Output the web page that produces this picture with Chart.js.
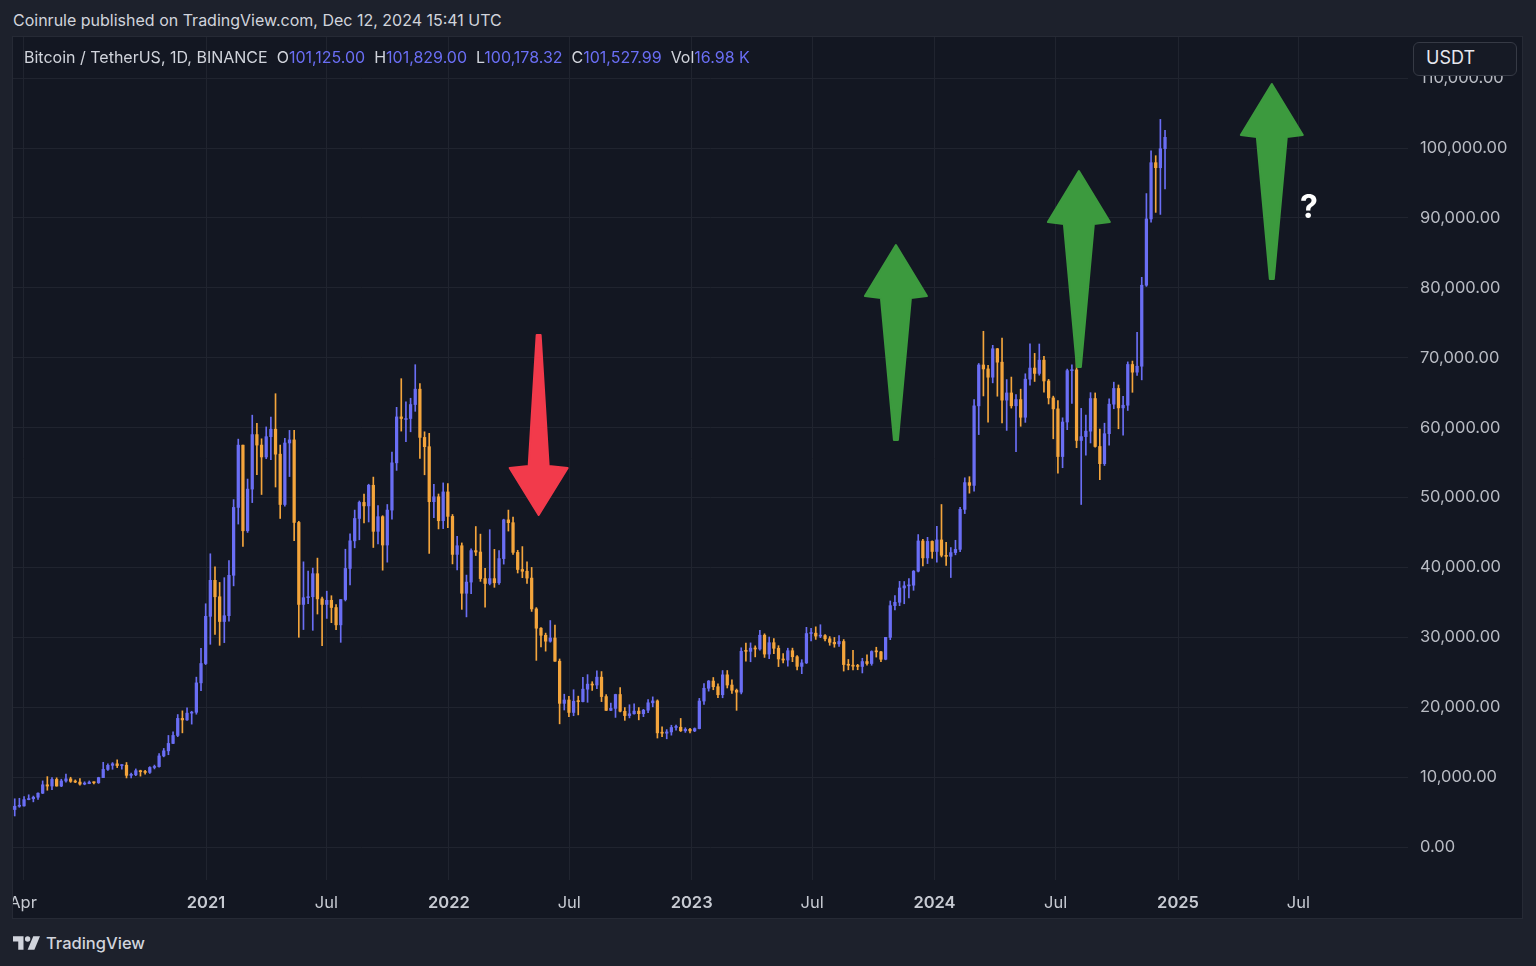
<!DOCTYPE html>
<html>
<head>
<meta charset="utf-8">
<script src="https://cdn.jsdelivr.net/npm/chart.js@4.4.1/dist/chart.umd.min.js"></script>
<style>
    body { margin: 0; width: 1536px; height: 966px; overflow: hidden; background: #1d212c; font-family: Inter, "Noto Sans", sans-serif; }
    #title { position: absolute; left: 13px; top: 10px; font-size: 16px; line-height: 20px; color: #d1d4dc; }
    #pane { position: absolute; left: 12px; top: 36px; width: 1511px; height: 883px; background: #131722; border: 1px solid #262a35; box-sizing: border-box; }
    #chartBox { position: absolute; left: 13px; top: 37px; width: 1509px; height: 881px; }
    #legend { position: absolute; left: 24px; top: 47px; font-size: 16px; line-height: 20px; color: #d1d4dc; white-space: nowrap; }
    #legend .v { color: #6a6ef4; }
    #legend .k { margin-left: 9px; }
    #unit { position: absolute; left: 1413px; top: 42px; width: 104px; height: 34px; box-sizing: border-box; border: 1px solid #363a45; border-radius: 6px; background: #161a25; color: #e6e8ee; font-size: 18px; line-height: 30px; padding-left: 12px; }
    #footer { position: absolute; left: 13px; top: 933px; height: 20px; color: #d1d4dc; font-size: 16.5px; line-height: 20px; font-weight: 500; display: flex; align-items: center; }
    #footer svg { margin-right: 6px; }
</style>
</head>
<body>
<div id="title">Coinrule published on TradingView.com, Dec 12, 2024 15:41 UTC</div>
<div id="pane"></div>
<div id="chartBox"><canvas id="chart" width="1509" height="881"></canvas></div>
<div id="legend">Bitcoin / TetherUS, 1D, BINANCE<span class="k">O</span><span class="v">101,125.00</span><span class="k">H</span><span class="v">101,829.00</span><span class="k">L</span><span class="v">100,178.32</span><span class="k">C</span><span class="v">101,527.99</span><span class="k">Vol</span><span class="v">16.98 K</span></div>
<div id="unit">USDT</div>
<div id="footer">
    <svg width="27" height="14" viewBox="0 0 36 18"><path d="M0 0h14v18h-7v-11h-7z" fill="#d1d4dc"/><circle cx="19.5" cy="3.6" r="3.6" fill="#d1d4dc"/><path d="M27 0h9l-7.5 18h-9z" fill="#d1d4dc"/></svg>TradingView
</div>
<script>
// weekly candles (thousands USDT), first week starts Mon 2020-03-16
const weekStart = '2020-03-16';
const firstOpen = 5.36;
const weekHigh = [
    6.90,6.97,7.20,7.47,7.29,7.74,9.46,10.07,9.94,9.90,9.70,10.43,9.98,9.60,9.78,9.33,9.45,9.34,9.98,12.12,11.90,12.08,12.47,11.78,12.09,10.57,11.17,10.99,10.96,11.49,11.72,13.35,14.10,15.96,16.48,18.95,19.48,19.92,19.42,24.30,28.42,34.80,
    41.95,40.10,37.85,38.53,40.97,49.70,58.35,57.50,52.64,61.78,60.60,58.40,60.10,61.50,64.85,57.50,58.45,59.60,59.60,46.60,40.80,39.48,39.90,41.33,35.75,36.60,35.95,34.68,35.40,42.60,44.80,48.20,49.50,50.50,51.90,52.92,48.84,47.40,49.00,56.50,62.90,67.00,63.70,64.20,69.00,66.30,59.40,59.18,51.90,50.50,52.09,52.00,
    47.57,44.45,43.50,38.90,42.66,45.85,44.76,39.85,45.40,42.58,42.40,46.90,48.20,47.20,42.45,42.98,40.80,40.00,34.25,31.40,30.60,32.40,31.75,26.90,21.86,21.54,22.50,21.58,24.28,24.66,23.65,25.20,25.10,21.80,20.58,21.86,22.80,19.95,20.35,20.48,19.95,19.70,21.08,21.48,21.05,17.19,16.80,17.42,17.43,18.39,17.06,16.97,
    17.04,21.26,23.37,23.82,24.25,23.33,25.25,25.25,23.90,22.60,28.50,29.18,29.20,28.78,31.00,30.50,30.04,29.82,28.80,27.66,28.44,28.45,27.40,26.80,31.43,31.28,31.50,31.80,30.40,30.10,29.98,30.24,29.68,26.83,28.14,26.13,27.00,27.48,28.07,28.58,28.00,30.00,35.20,35.98,38.00,37.98,38.41,39.55,44.70,44.00,44.30,43.80,
    45.88,49.00,43.57,42.84,43.88,48.59,52.82,52.98,64.00,69.17,73.78,68.92,71.77,71.34,72.80,66.87,67.23,64.73,65.50,67.70,71.98,70.62,71.96,70.20,66.90,64.50,63.86,61.40,68.37,68.99,70.08,62.75,61.80,65.00,64.96,59.80,60.63,64.13,66.50,66.10,64.48,69.40,69.52,73.62,81.50,93.48,99.59,98.90,104.09,102.54
];
const weekLow = [
    4.44,5.68,5.86,6.75,6.46,6.79,7.64,8.12,8.20,8.70,8.63,9.26,9.24,9.20,8.83,8.90,9.05,9.02,9.10,9.93,10.95,11.12,11.36,11.14,9.88,9.87,10.20,10.14,10.43,10.52,11.17,11.41,12.90,13.20,14.80,15.78,16.33,18.10,17.58,19.00,22.35,26.10,
    29.00,30.42,28.85,29.24,32.30,37.36,46.20,43.00,45.00,49.27,53.27,50.43,55.55,55.43,51.50,47.00,48.75,53.00,43.82,30.00,31.11,34.80,31.00,33.33,28.80,32.70,32.09,31.10,29.28,35.20,37.50,42.80,43.95,46.35,46.50,42.85,43.37,39.60,40.75,46.90,53.88,59.50,58.00,59.40,62.33,55.60,53.25,42.00,47.10,45.50,45.55,45.68,
    40.50,39.65,34.00,32.92,36.25,41.70,38.00,34.32,37.50,37.15,37.55,40.47,45.20,41.86,39.20,38.53,37.70,33.70,26.70,28.63,28.02,29.30,26.56,17.62,19.60,18.63,18.78,18.90,20.76,20.70,22.40,22.66,20.80,19.52,19.52,18.54,19.32,18.12,18.47,19.00,18.19,18.65,19.23,20.05,15.59,15.80,15.48,16.00,16.73,16.52,16.40,16.33,
    16.50,16.90,20.40,22.30,22.50,21.35,21.35,22.75,21.97,19.55,21.90,26.60,26.50,27.20,28.17,27.12,26.94,27.65,25.81,26.33,25.87,26.51,25.35,24.80,26.24,29.50,29.70,29.95,29.50,28.86,28.58,28.70,25.17,25.35,25.33,25.36,24.90,26.00,26.00,27.17,26.53,26.78,29.66,33.90,34.52,34.80,35.63,36.72,39.35,40.20,40.55,41.30,
    40.75,41.50,40.28,38.55,41.80,42.25,47.70,50.62,50.90,59.00,64.53,60.76,66.40,64.49,60.66,59.60,62.79,56.55,60.19,60.75,66.06,66.60,67.50,65.08,63.38,58.40,53.48,54.26,59.70,63.46,57.12,49.00,56.07,57.80,57.20,52.55,54.58,57.50,62.70,59.83,58.90,62.45,65.05,67.46,66.83,80.20,89.38,90.79,90.50,94.15
];
const weekClose = [
    5.83,5.88,6.78,6.91,7.12,7.70,8.90,8.72,9.67,8.72,9.45,9.75,9.39,9.29,9.00,9.07,9.28,9.19,9.93,11.10,11.68,11.90,11.65,11.70,10.25,10.33,10.92,10.77,10.67,11.38,11.50,13.03,13.76,14.82,15.96,18.40,18.18,19.15,19.27,23.48,26.25,33.00,
    38.15,35.80,32.26,33.09,38.87,48.58,57.49,45.24,51.20,59.00,57.50,55.80,58.70,59.77,56.20,49.00,57.80,58.24,46.43,34.70,35.67,35.80,39.10,35.50,34.70,35.29,34.26,31.78,35.40,39.85,43.80,47.00,49.30,48.80,51.75,45.16,47.26,43.20,48.20,54.96,61.53,61.30,61.30,63.30,65.50,58.60,57.27,49.40,50.10,46.68,50.80,47.30,
    41.86,43.10,36.30,37.90,42.40,42.20,38.40,37.70,38.40,37.80,41.26,46.80,46.40,42.15,39.70,39.45,38.47,34.06,31.30,30.29,29.44,29.90,26.58,20.55,21.03,19.25,20.85,20.80,22.58,23.30,23.17,24.30,21.52,19.55,19.83,21.82,19.42,18.80,19.06,19.44,19.07,19.57,20.63,20.90,16.33,16.28,16.46,17.10,17.13,16.63,16.84,16.61,
    16.94,20.88,22.71,23.74,22.93,21.78,24.63,23.17,22.42,22.15,28.00,27.99,28.45,28.33,30.30,27.60,29.23,28.43,26.90,26.75,28.08,27.22,25.84,26.34,30.54,30.59,30.17,30.24,29.78,29.28,29.06,29.40,26.10,26.00,25.87,25.83,26.53,26.25,27.97,27.92,26.86,29.99,34.53,35.01,37.06,37.36,37.45,39.46,43.78,41.36,43.72,42.28,
    43.93,41.73,41.58,42.12,42.58,48.30,52.13,51.73,63.11,68.96,68.39,67.21,71.28,69.36,63.93,64.96,63.12,64.01,61.48,66.93,68.52,67.75,69.65,66.67,64.25,62.68,55.86,60.80,68.15,68.26,58.16,58.71,59.49,64.16,57.30,54.84,59.13,63.35,65.60,62.82,63.20,69.03,67.93,68.78,80.37,89.85,97.90,97.18,99.90,101.53
];

const timeTickDates = ['2020-04-01','2021-01-01','2021-07-01','2022-01-01','2022-07-01','2023-01-01','2023-07-01','2024-01-01','2024-07-01','2025-01-01','2025-07-01'];
const timeTickLabels = ['Apr','2021','Jul','2022','Jul','2023','Jul','2024','Jul','2025','Jul'];
const priceTicks = [0,10000,20000,30000,40000,50000,60000,70000,80000,90000,100000,110000];

// drawings on the chart
const arrowDates = ['2022-05-16','2023-11-04','2024-08-05','2025-05-22'];
const arrowTail = [73250, 58230, 68670, 81260];
const arrowTip = [47500, 86120, 96710, 109160];
const questionDate = '2025-07-17';
const questionPrice = 91400;

const UP = '#6a6ef4';
const DOWN = '#f4a53c';
const DAY = 86400000;

function dayNum(s) {
    const p = s.split('-').map(Number);
    return (Date.UTC(p[0], p[1] - 1, p[2]) - Date.UTC(2021, 0, 1)) / DAY;
}

const x0 = dayNum(weekStart);
const opens = weekClose.map((c, i) => i == 0 ? firstOpen : weekClose[i - 1]);
const xs = weekClose.map((c, i) => x0 + i * 7 + 3.5);
const wicks = xs.map((x, i) => ({ x: x, y: [weekLow[i] * 1000, weekHigh[i] * 1000] }));
const bodies = xs.map((x, i) => ({ x: x, y: [opens[i] * 1000, weekClose[i] * 1000] }));
const candleColor = ctx => weekClose[ctx.dataIndex] >= opens[ctx.dataIndex] ? UP : DOWN;

const drawings = {
    id: 'drawings',
    afterDatasetsDraw(chart) {
        const c = chart.ctx, xs = chart.scales.x, ys = chart.scales.y;
        c.save();
        for (let i = 0; i < arrowDates.length; i++) {
            const px = xs.getPixelForValue(dayNum(arrowDates[i]));
            const ty = ys.getPixelForValue(arrowTip[i]);
            const by = ys.getPixelForValue(arrowTail[i]);
            const down = ty > by;
            const dir = down ? 1 : -1;
            const headLen = down ? 47 : 51;
            const headHalf = down ? 29 : 31;
            const shaftHalf = down ? 10 : 15;
            const tailHalf = 2;
            const hb = ty - dir * headLen;
            c.fillStyle = down ? '#f23a4b' : '#3c9a3e';
            c.strokeStyle = c.fillStyle;
            c.lineWidth = 2;
            c.lineJoin = 'round';
            c.beginPath();
            c.moveTo(px, ty);
            c.lineTo(px + headHalf, hb);
            c.lineTo(px + shaftHalf, hb - dir * 2);
            c.lineTo(px + tailHalf, by);
            c.lineTo(px - tailHalf, by);
            c.lineTo(px - shaftHalf, hb - dir * 2);
            c.lineTo(px - headHalf, hb);
            c.closePath();
            c.fill();
            c.stroke();
        }
        c.fillStyle = '#ffffff';
        c.font = 'bold 32px Inter, "Noto Sans", sans-serif';
        c.textAlign = 'center';
        c.textBaseline = 'middle';
        c.fillText('?', xs.getPixelForValue(dayNum(questionDate)), ys.getPixelForValue(questionPrice));
        c.restore();
    }
};

const gridColor = '#20242f';
const fontFamily = 'Inter, "Noto Sans", sans-serif';

new Chart(document.getElementById('chart'), {
    type: 'bar',
    data: {
        datasets: [{
            data: bodies,
            backgroundColor: candleColor,
            barThickness: 2.6,
            minBarLength: 1,
            grouped: false
        }, {
            data: wicks,
            backgroundColor: candleColor,
            barThickness: 1,
            grouped: false
        }]
    },
    options: {
        responsive: false,
        animation: false,
        layout: { padding: 0 },
        plugins: { legend: { display: false }, tooltip: { enabled: false } },
        scales: {
            x: {
                type: 'linear',
                offset: false,
                bounds: 'ticks',
                min: -290.1,
                max: 1806.7,
                grid: { color: gridColor, drawTicks: false, tickLength: 0, offset: false },
                border: { display: false },
                afterBuildTicks: s => { s.ticks = timeTickDates.map(d => ({ value: dayNum(d) })); },
                afterFit: s => { s.height = 38; s.paddingLeft = 0; s.paddingRight = 0; },
                ticks: {
                    autoSkip: false,
                    maxRotation: 0,
                    padding: 13,
                    color: '#c7cad2',
                    font: ctx => ({ family: fontFamily, size: 16.5, weight: /^\d/.test(timeTickLabels[ctx.index] || '') ? '600' : '400' }),
                    callback: (v, i) => timeTickLabels[i]
                }
            },
            y: {
                position: 'right',
                min: -4720,
                max: 115880,
                grid: { color: gridColor, drawTicks: false, tickLength: 0 },
                border: { display: false },
                afterBuildTicks: s => { s.ticks = priceTicks.map(v => ({ value: v })); },
                afterFit: s => { s.width = 114; s.paddingTop = 0; s.paddingBottom = 0; },
                ticks: {
                    padding: 12,
                    color: '#b8bbc3',
                    font: { family: fontFamily, size: 16.5 },
                    callback: v => v.toLocaleString('en-US', { minimumFractionDigits: 2, maximumFractionDigits: 2 })
                }
            }
        }
    },
    plugins: [drawings]
});
</script>
</body>
</html>
